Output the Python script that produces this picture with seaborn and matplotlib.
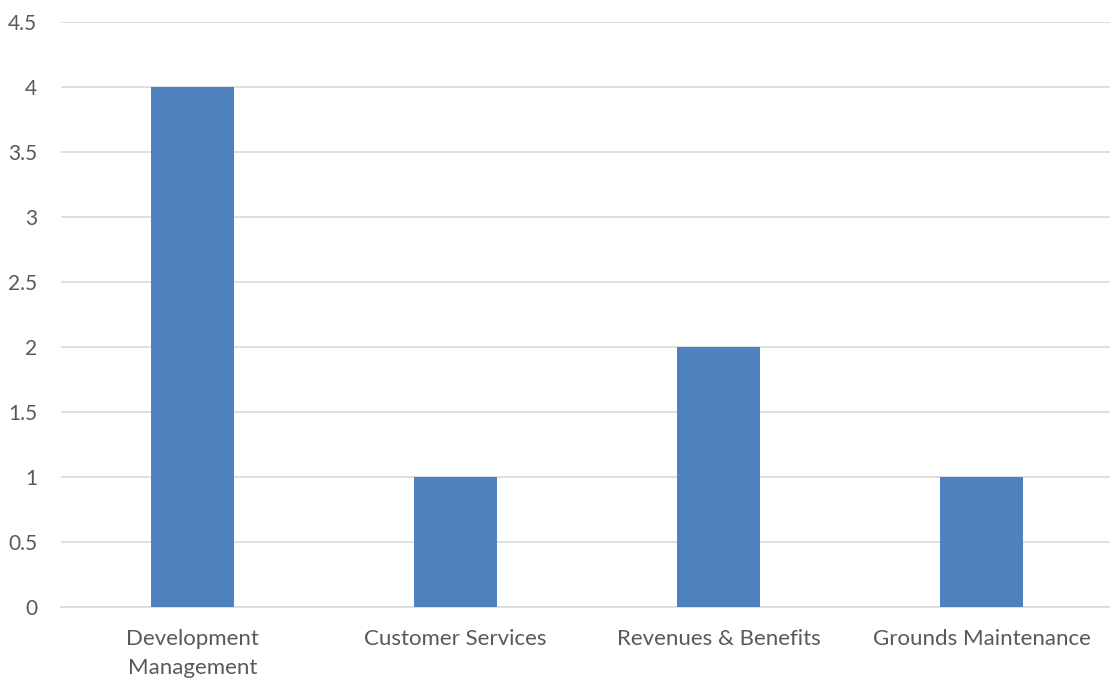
import matplotlib
matplotlib.use("Agg")
import matplotlib.pyplot as plt
import seaborn as sns
import pandas as pd

categories = ["Development\nManagement", "Customer Services", "Revenues & Benefits", "Grounds Maintenance"]
values = [4, 1, 2, 1]
yticks = [0, 0.5, 1, 1.5, 2, 2.5, 3, 3.5, 4, 4.5]
ytick_labels = ["0", "0.5", "1", "1.5", "2", "2.5", "3", "3.5", "4", "4.5"]

sns.set_theme(style="white")
plt.rcParams["font.family"] = ["Lato", "DejaVu Sans"]

df = pd.DataFrame({"cat": categories, "val": values})

fig = plt.figure(figsize=(11.10, 6.97), dpi=100)
W, H = 1110, 697
left, right, top, bottom = 61, 1113, 22, 607
ax = fig.add_axes([left / W, 1 - bottom / H, (right - left) / W, (bottom - top) / H])

sns.barplot(data=df, x="cat", y="val", color="#4F81BD", saturation=1, width=0.316,
            linewidth=0, ax=ax, zorder=3)

ax.set_ylim(0, 4.5)
ax.set_xlim(-0.5, 3.5)
ax.set_yticks(yticks)
ax.set_yticklabels(ytick_labels)
ax.yaxis.grid(True, color="#D9D9D9", linewidth=1.2, zorder=0)
ax.set_axisbelow(True)
for s in ["top", "right", "left"]:
    ax.spines[s].set_visible(False)
ax.spines["bottom"].set_color("#D9D9D9")
ax.spines["bottom"].set_linewidth(1.2)
ax.set_xlabel("")
ax.set_ylabel("")
ax.tick_params(axis="both", length=0, labelcolor="#595959")
ax.tick_params(axis="y", pad=17, labelsize=15)
ax.tick_params(axis="x", pad=16, labelsize=16)
for lbl in ax.get_yticklabels():
    lbl.set_horizontalalignment("right")
for lbl in ax.get_xticklabels():
    lbl.set_linespacing(1.55)

fig.savefig("out.png", dpi=100, facecolor="white")
